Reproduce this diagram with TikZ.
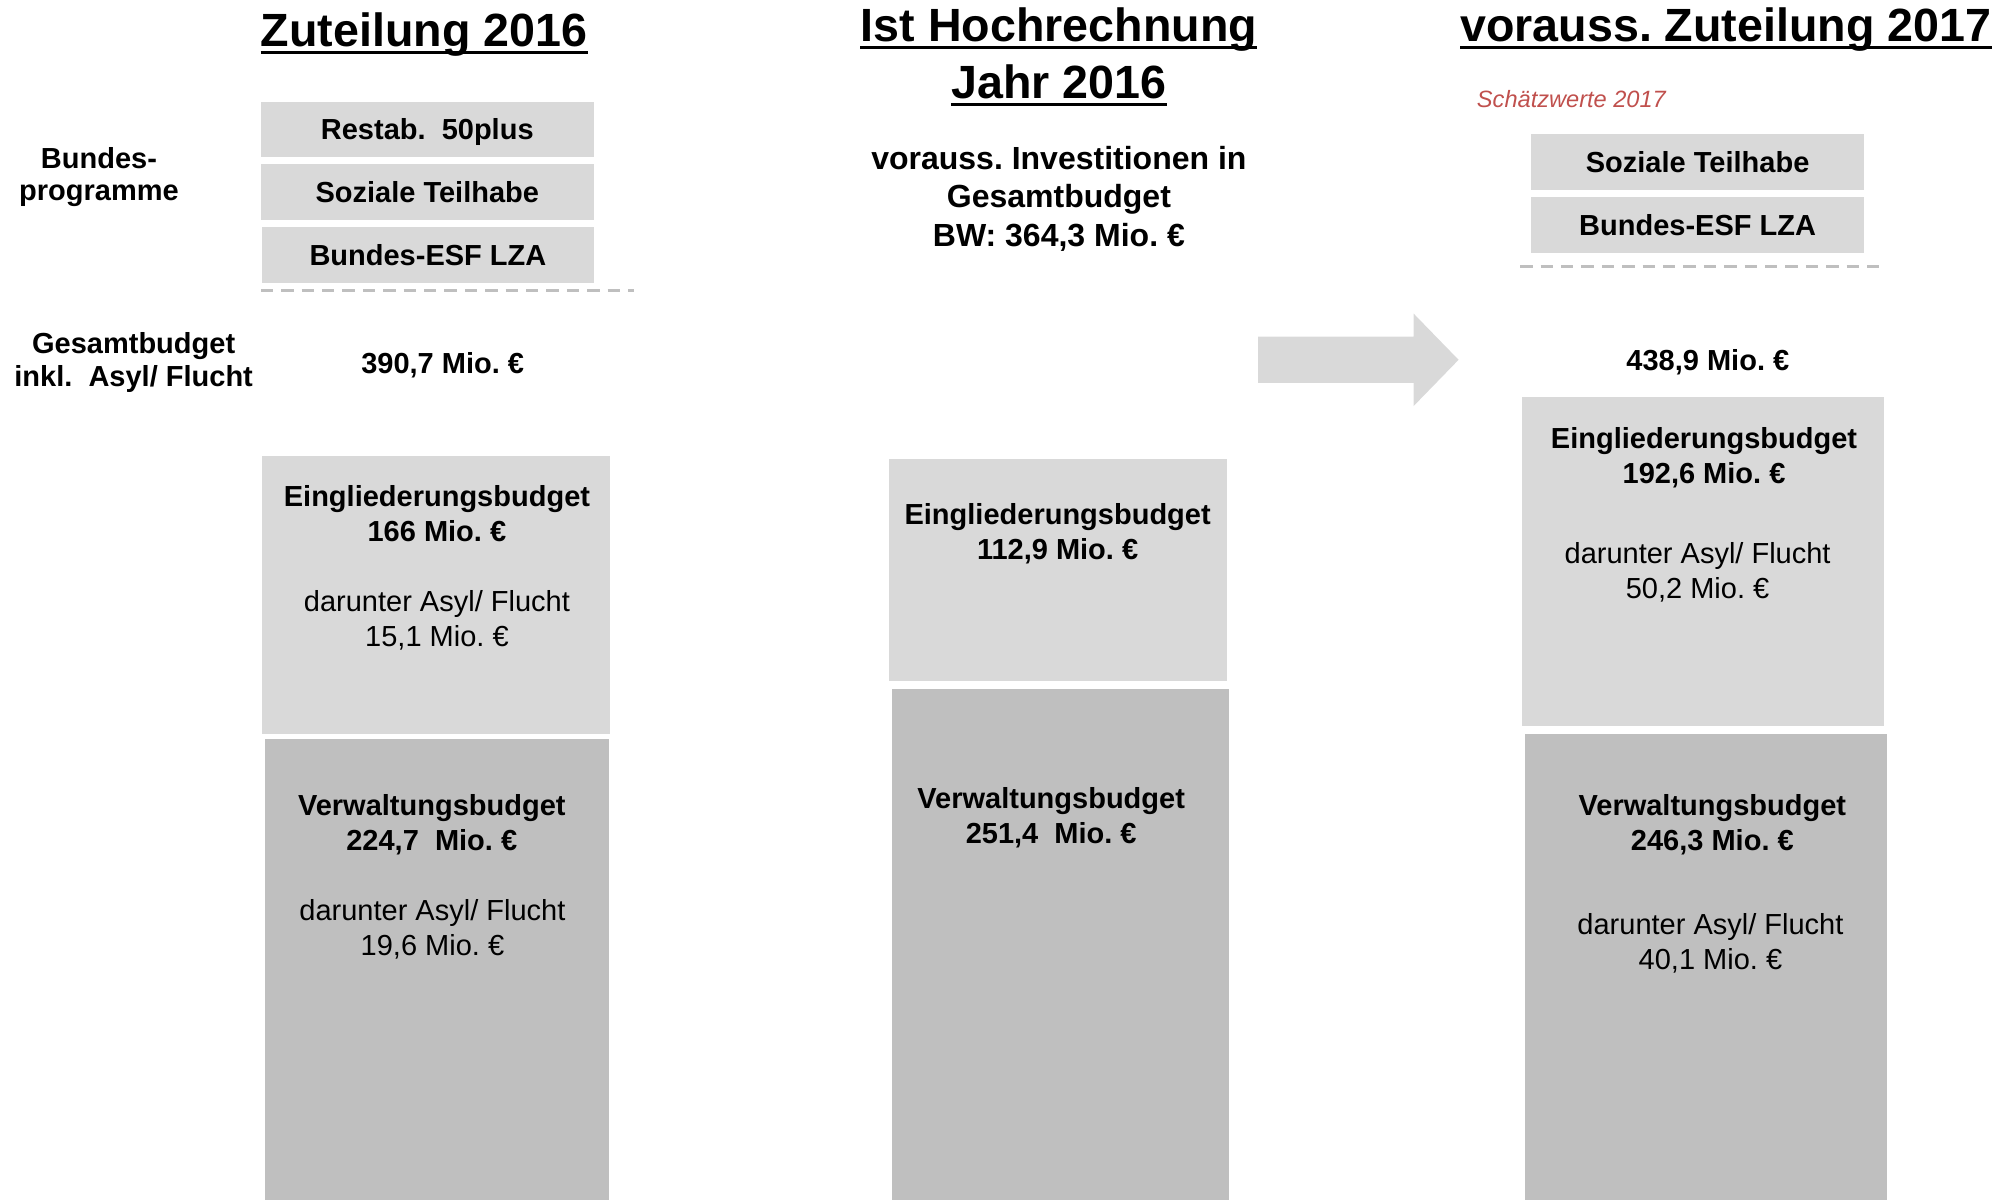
\documentclass[tikz,border=0pt]{standalone}
\usepackage{fontspec}
\setmainfont{Liberation Sans}
\frenchspacing
\definecolor{boxlight}{HTML}{D9D9D9}
\definecolor{boxdark}{HTML}{BFBFBF}
\definecolor{estred}{HTML}{C0504D}
\newdimen\pxu \pxu=0.6425pt

\tikzset{
  lightbox/.style={fill=boxlight,inner sep=0pt},
  darkbox/.style={fill=boxdark,inner sep=0pt},
  progbox/.style={lightbox,minimum width=259\pxu,minimum height=43\pxu,
    text height=10.2pt,text depth=0pt,
    font=\fontsize{14.5}{17.5}\selectfont\bfseries},
  sepline/.style={draw=boxdark,line width=1.5pt,dash pattern=on 6.2pt off 4pt},
  uline/.style={line width=1.5pt},
}

\begin{document}
\begin{tikzpicture}[x=0.6425pt,y=-0.6425pt,
  title/.style={font=\fontsize{23.3}{28}\selectfont\bfseries,inner sep=0pt,anchor=base},
  body/.style={font=\fontsize{14.5}{17.5}\selectfont,align=center,inner sep=0pt,yshift=-1pt},
  bold/.style={body,font=\fontsize{14.5}{17.5}\selectfont\bfseries},
  side/.style={body,font=\fontsize{14.5}{16.1}\selectfont\bfseries}]
  \useasboundingbox (0,0) rectangle (1568,934);

  % Zuteilung 2016
  \node[title] (t1) at (330,36.4) {Zuteilung 2016};
  \node[progbox] (rs1) at (332.5,100.5) {Restab.\ \ 50plus};
  \node[progbox] (st1) at (332.5,149.5) {Soziale Teilhabe};
  \node[progbox] (esf1) at (333,198.5) {Bundes-ESF LZA};
  \draw[sepline] (203,226) -- (493,226);
  \node[side] (bp) at (77,136.5) {Bundes-\\programme};
  \node[side] (gb) at (104,280.5) {Gesamtbudget\\inkl.\ \ Asyl/ Flucht};
  \node[bold] (sum1) at (344.5,283) {390,7 Mio. €};
  \node[lightbox,minimum width=271\pxu,minimum height=216\pxu] (eb1) at (339.5,463) {};
  \node[darkbox,minimum width=268\pxu,minimum height=359\pxu] (vb1) at (340,754.5) {};
  \node[bold] (eb1h) at (340,398) {Eingliederungsbudget\\166 Mio. €};
  \node[body] (eb1s) at (340,481) {darunter Asyl/ Flucht\\15,1 Mio. €};
  \node[bold] (vb1h) at (336,640) {Verwaltungsbudget\\224,7\ \ Mio. €};
  \node[body] (vb1s) at (336.5,722) {darunter Asyl/ Flucht\\19,6 Mio. €};

  % Ist Hochrechnung
  \node[title] (t2a) at (824,32.5) {Ist Hochrechnung};
  \node[title] (t2b) at (824,76.6) {Jahr 2016};
  \node[bold,font=\fontsize{16}{19.3}\selectfont\bfseries] (inv) at (824,153)
    {vorauss. Investitionen in\\Gesamtbudget\\BW: 364,3 Mio. €};
  \node[lightbox,minimum width=263\pxu,minimum height=173\pxu] (eb2) at (823.5,443.5) {};
  \node[darkbox,minimum width=262\pxu,minimum height=398\pxu] (vb2) at (825,735) {};
  \node[bold] (eb2h) at (823,413.5) {Eingliederungsbudget\\112,9 Mio. €};
  \node[bold] (vb2h) at (818,634.5) {Verwaltungsbudget\\251,4\ \ Mio. €};

  % arrow
  \fill[boxlight] (979,262) -- (1100,262) -- (1100,244) -- (1135,280)
    -- (1100,316) -- (1100,298) -- (979,298) -- cycle;

  % vorauss. Zuteilung 2017
  \node[title] (t3) at (1343,32.5) {vorauss. Zuteilung 2017};
  \node[anchor=west,inner sep=0pt,text=estred,font=\fontsize{11.8}{14}\selectfont\itshape]
    (est) at (1149,77) {Schätzwerte 2017};
  \node[progbox] (st3) at (1321,126) {Soziale Teilhabe};
  \node[progbox] (esf3) at (1321,175) {Bundes-ESF LZA};
  \draw[sepline] (1183,207) -- (1463,207);
  \node[bold] (sum3) at (1329,280) {438,9 Mio. €};
  \node[lightbox,minimum width=282\pxu,minimum height=256\pxu] (eb3) at (1325,437) {};
  \node[darkbox,minimum width=281\pxu,minimum height=363\pxu] (vb3) at (1327.5,752.5) {};
  \node[bold] (eb3h) at (1326,355) {Eingliederungsbudget\\192,6 Mio. €};
  \node[body] (eb3s) at (1321,443.5) {darunter Asyl/ Flucht\\50,2 Mio. €};
  \node[bold] (vb3h) at (1332.5,640.5) {Verwaltungsbudget\\246,3 Mio. €};
  \node[body] (vb3s) at (1331,732.5) {darunter Asyl/ Flucht\\40,1 Mio. €};

  \foreach \t in {t1,t2a,t2b,t3}
    \draw[uline] ([yshift=-2.8pt]\t.base west) -- ([yshift=-2.8pt]\t.base east);
\end{tikzpicture}
\end{document}
